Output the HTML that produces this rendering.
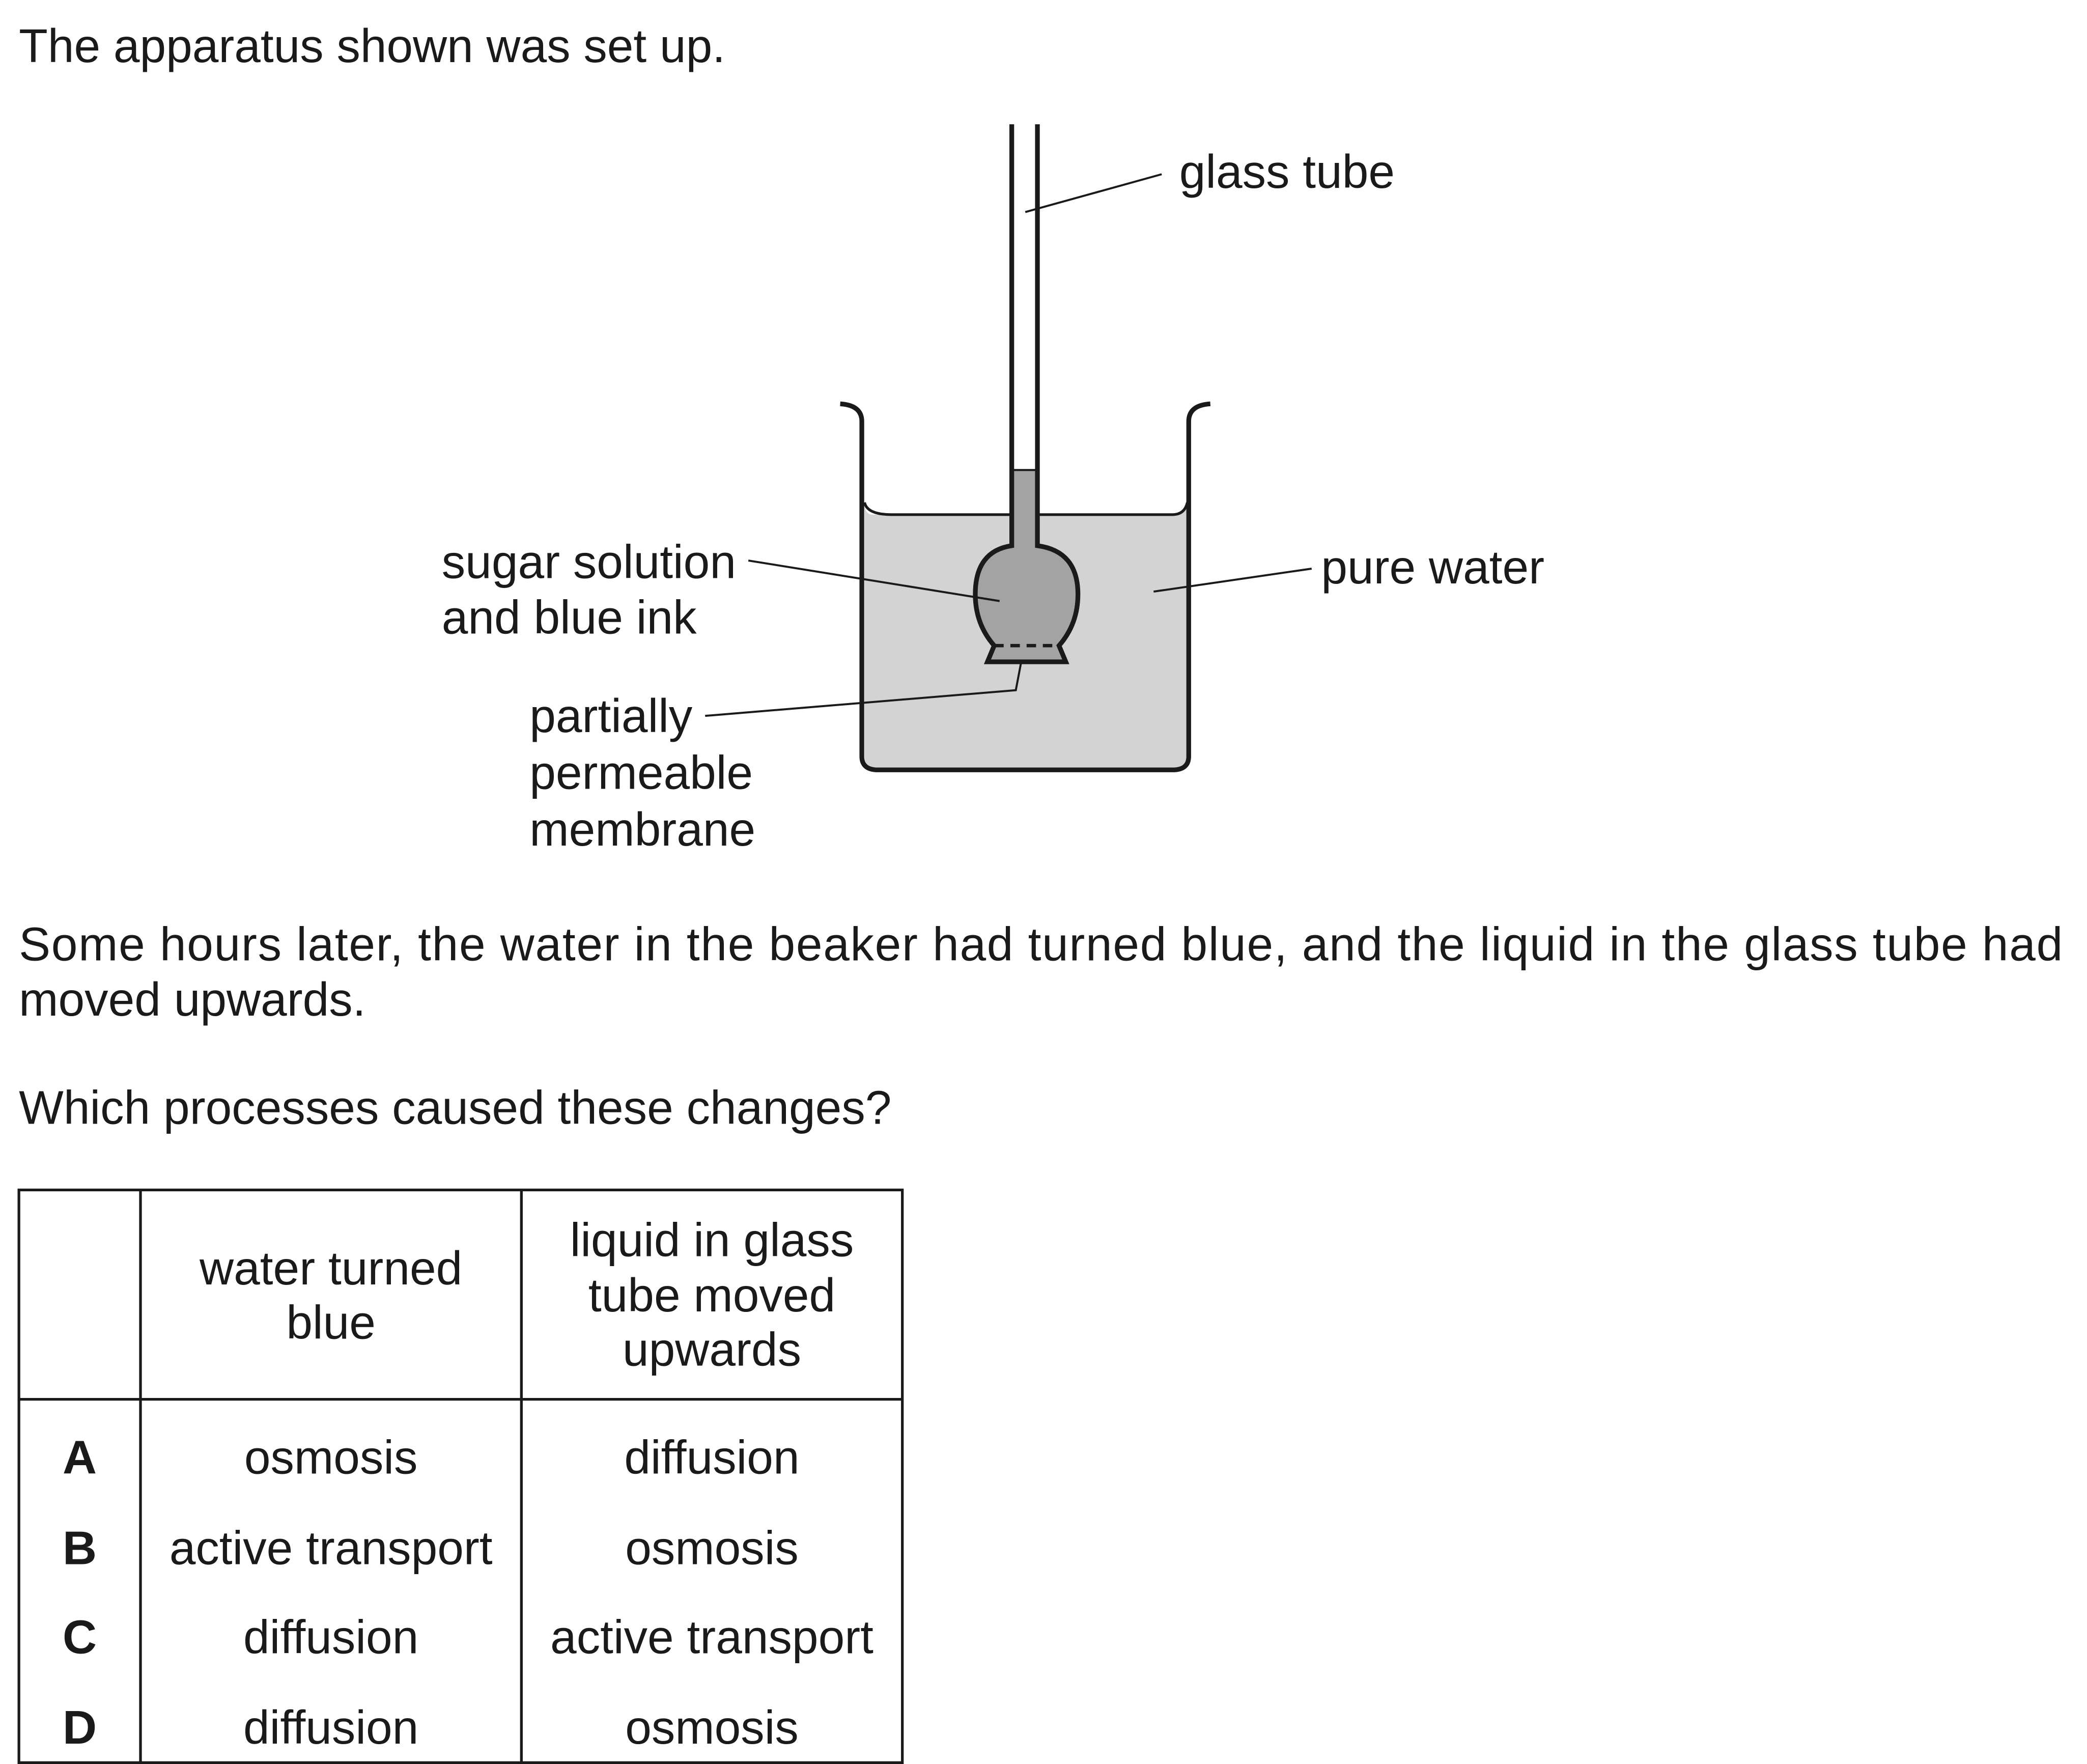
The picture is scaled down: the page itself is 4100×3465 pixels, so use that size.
<!DOCTYPE html>
<html><head><meta charset="utf-8"><style>
html,body{margin:0;padding:0;background:#fff;}
svg{display:block;}
text{font-family:"Liberation Sans",Arial,sans-serif;fill:#1a1a1a;font-size:35px;}
</style></head><body>
<svg width="4100" height="3465" viewBox="0 0 1545 1306" preserveAspectRatio="none">
<text x="14" y="46" textLength="523" lengthAdjust="spacingAndGlyphs">The apparatus shown was set up.</text>
<g>
  <path d="M646,381 Q640,381 640,372 L640,560 Q640,570 652,570 L868,570 Q879,570 879,560 L879,372 Q879,381 868,381 Z" fill="#d3d3d3"/>
  <path d="M640,372 Q642,381 660,381 L868,381 Q877,381 879,372" fill="none" stroke="#1a1a1a" stroke-width="2"/>
  <path d="M622,299 Q638,300 638,312 L638,560 Q638,570 650,570 L868,570 Q880,570 880,560 L880,312 Q880,300 896,299" fill="none" stroke="#1a1a1a" stroke-width="3.5"/>
  <rect x="750" y="348" width="17" height="60" fill="#a3a3a3"/>
  <line x1="750" y1="348" x2="767" y2="348" stroke="#1a1a1a" stroke-width="1.5"/>
  <path d="M749,404 Q722,408 722,440 Q722,462 736,478 L731,490 L789,490 L784,478 Q798,462 798,440 Q798,408 768,404 Z" fill="#a3a3a3"/>
  <path d="M749,92 L749,404 Q722,408 722,440 Q722,462 736,478 L731,490 L789,490 L784,478 Q798,462 798,440 Q798,408 768,404 L768,92" fill="none" stroke="#1a1a1a" stroke-width="3.5"/>
  <line x1="736" y1="478" x2="784" y2="478" stroke="#1a1a1a" stroke-width="2.5" stroke-dasharray="7,5"/>
  <line x1="759" y1="157" x2="860" y2="129" stroke="#1a1a1a" stroke-width="1.5"/>
  <line x1="554" y1="415" x2="740" y2="445" stroke="#1a1a1a" stroke-width="1.5"/>
  <line x1="854" y1="438" x2="971" y2="421" stroke="#1a1a1a" stroke-width="1.5"/>
  <polyline points="522,530 752,511 756,490" fill="none" stroke="#1a1a1a" stroke-width="1.5"/>
  <text x="873" y="139">glass tube</text>
  <text x="327" y="428">sugar solution</text>
  <text x="327" y="469">and blue ink</text>
  <text x="978" y="432">pure water</text>
  <text x="392" y="542">partially</text>
  <text x="392" y="584">permeable</text>
  <text x="392" y="626">membrane</text>
</g>
<text x="14" y="711" textLength="1513" lengthAdjust="spacing">Some hours later, the water in the beaker had turned blue, and the liquid in the glass tube had</text>
<text x="14" y="752">moved upwards.</text>
<text x="14" y="832" textLength="646" lengthAdjust="spacingAndGlyphs">Which processes caused these changes?</text>
<g stroke="#1a1a1a" stroke-width="2">
  <rect x="14" y="881" width="654" height="424" fill="none"/>
  <line x1="104" y1="881" x2="104" y2="1305"/>
  <line x1="386" y1="881" x2="386" y2="1305"/>
  <line x1="14" y1="1036" x2="668" y2="1036"/>
</g>
<g text-anchor="middle">
  <text x="245" y="951">water turned</text>
  <text x="245" y="991">blue</text>
  <text x="527" y="930">liquid in glass</text>
  <text x="527" y="971">tube moved</text>
  <text x="527" y="1011">upwards</text>
  <text x="59" y="1091" font-weight="bold">A</text>
  <text x="245" y="1091">osmosis</text>
  <text x="527" y="1091">diffusion</text>
  <text x="59" y="1158" font-weight="bold">B</text>
  <text x="245" y="1158">active transport</text>
  <text x="527" y="1158">osmosis</text>
  <text x="59" y="1224" font-weight="bold">C</text>
  <text x="245" y="1224">diffusion</text>
  <text x="527" y="1224">active transport</text>
  <text x="59" y="1291" font-weight="bold">D</text>
  <text x="245" y="1291">diffusion</text>
  <text x="527" y="1291">osmosis</text>
</g>
</svg>
</body></html>
